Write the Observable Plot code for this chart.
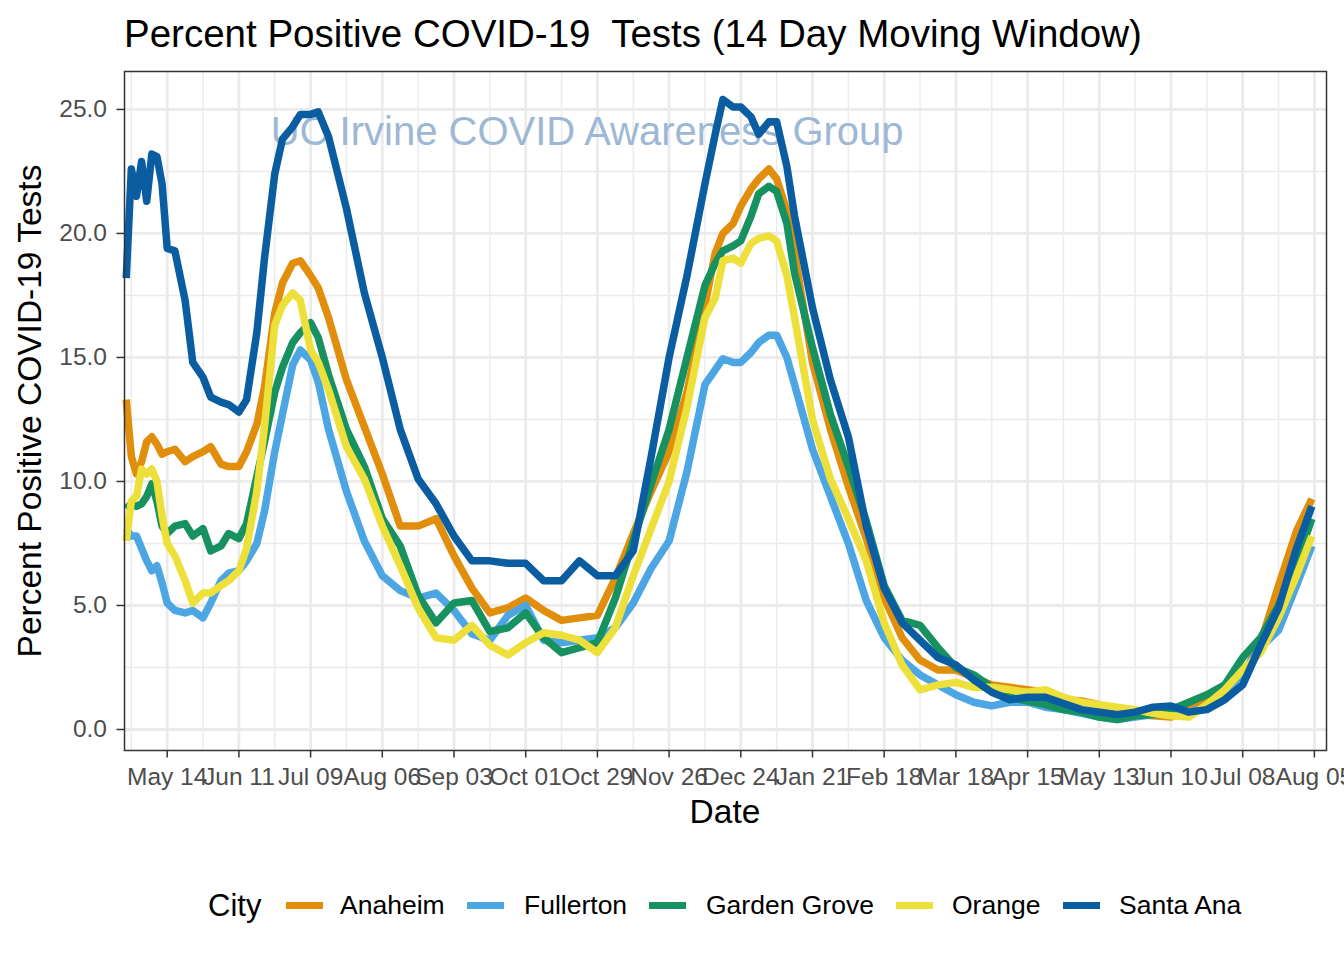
<!DOCTYPE html>
<html>
<head>
<meta charset="utf-8">
<script src="https://cdn.jsdelivr.net/npm/d3@7"></script>
<script src="https://cdn.jsdelivr.net/npm/@observablehq/plot@0.6"></script>
<style>
  body { margin: 0; background: #fff; font-family: "Liberation Sans", Arial, Helvetica, sans-serif; }
  #wrap { position: relative; width: 1344px; height: 960px; overflow: hidden; background: #fff; }
  #chart { position: absolute; left: 0; top: 0; }
  .abs { position: absolute; line-height: 1; white-space: pre; color: #000; }
  #title { left: 124px; top: 14.5px; font-size: 38.5px; }
  #xtitle { left: 725px; top: 794.6px; font-size: 33.5px; transform: translateX(-50%); }
  #ytitle { left: 30px; top: 411px; font-size: 33.5px; transform: translate(-50%, -50%) rotate(-90deg); }
  .sw { position: absolute; width: 37px; height: 7px; }
  .lg { position: absolute; line-height: 1; font-size: 26.5px; white-space: pre; color: #000; }
</style>
</head>
<body>
<div id="wrap">
  <div id="chart"></div>
  <div id="title" class="abs">Percent Positive COVID-19  Tests (14 Day Moving Window)</div>
  <div id="xtitle" class="abs">Date</div>
  <div id="ytitle" class="abs">Percent Positive COVID-19 Tests</div>
  <div id="legend"></div>
</div>
<script>
// ---------------- data ----------------
const cities = ["Anaheim", "Fullerton", "Garden Grove", "Orange", "Santa Ana"];
const cityColors = ["#E08E0B", "#4BA6E3", "#16915F", "#EEE03A", "#0B5DA2"];

const dates = [
  "2020-04-28","2020-04-30","2020-05-02","2020-05-04","2020-05-06","2020-05-08","2020-05-10","2020-05-12","2020-05-14",
  "2020-05-17","2020-05-21","2020-05-24","2020-05-28","2020-05-31","2020-06-04","2020-06-07","2020-06-11","2020-06-14",
  "2020-06-18","2020-06-21","2020-06-25","2020-06-28","2020-07-02","2020-07-05","2020-07-09","2020-07-12","2020-07-16",
  "2020-07-23","2020-07-30","2020-08-06","2020-08-13","2020-08-20","2020-08-27","2020-09-03","2020-09-10","2020-09-17",
  "2020-09-24","2020-10-01","2020-10-08","2020-10-15","2020-10-22","2020-10-29","2020-11-05","2020-11-12","2020-11-19",
  "2020-11-26","2020-12-03","2020-12-10",
  "2020-12-14","2020-12-17","2020-12-21","2020-12-24","2020-12-28","2020-12-31","2021-01-04","2021-01-07","2021-01-11","2021-01-14",
  "2021-01-21","2021-01-28","2021-02-04","2021-02-11","2021-02-18","2021-02-25","2021-03-04","2021-03-11","2021-03-18",
  "2021-03-25","2021-04-01","2021-04-08","2021-04-15","2021-04-22","2021-04-29","2021-05-06","2021-05-13","2021-05-20",
  "2021-05-27","2021-06-03","2021-06-10","2021-06-17","2021-06-24","2021-07-01","2021-07-08","2021-07-15","2021-07-22",
  "2021-07-29","2021-08-04"
];

const anaheim = [
  13.3, 11.0, 10.3, 10.8, 11.6, 11.8, 11.5, 11.1, 11.2,
  11.3, 10.8, 11.0, 11.2, 11.4, 10.7, 10.6, 10.6, 11.2,
  12.3, 13.8, 16.8, 18.0, 18.8, 18.9, 18.3, 17.8, 16.6,
  14.1, 12.2, 10.3, 8.2, 8.2, 8.5, 7.0, 5.7, 4.7,
  4.9, 5.3, 4.8, 4.4, 4.5, 4.6, 6.1, 7.9, 9.6,
  11.2, 13.6, 17.1,
  19.2, 20.0, 20.4, 21.1, 21.8, 22.2, 22.6, 22.2, 20.9, 19.2,
  14.8, 12.1, 9.8, 7.7, 5.3, 3.7, 2.8, 2.4, 2.4,
  2.1, 1.8, 1.7, 1.6, 1.5, 1.2, 1.15, 1.0, 0.7,
  0.6, 0.55, 0.5, 0.8, 1.2, 1.6, 2.2, 3.5, 5.8,
  8.0, 9.3
];

const fullerton = [
  8.1, 7.8, 7.8, 7.3, 6.8, 6.4, 6.6, 5.9, 5.1,
  4.8, 4.7, 4.8, 4.5, 5.1, 6.0, 6.3, 6.4, 6.8,
  7.5, 8.8, 11.2, 12.7, 14.7, 15.3, 14.9, 14.0, 12.1,
  9.6, 7.6, 6.2, 5.6, 5.3, 5.5, 4.8, 3.85, 3.6,
  4.6, 5.0, 3.6, 3.5, 3.6, 3.7, 4.1, 5.1, 6.5,
  7.6, 10.4, 13.9,
  14.5, 14.95, 14.8, 14.8, 15.2, 15.6, 15.9, 15.9, 15.0, 13.9,
  11.3, 9.4, 7.5, 5.2, 3.7, 2.8, 2.2, 1.8, 1.4,
  1.1, 0.95, 1.1, 1.1, 0.9, 0.8, 0.65, 0.5, 0.4,
  0.5, 0.6, 0.6, 0.7, 0.9, 1.4, 2.3, 3.3, 4.0,
  5.8, 7.4
];

const gardenGrove = [
  8.9, 9.1, 9.0, 9.1, 9.4, 9.9, 9.2, 8.2, 7.9,
  8.2, 8.3, 7.8, 8.1, 7.2, 7.4, 7.9, 7.7, 8.3,
  10.2, 11.6, 13.6, 14.6, 15.6, 16.0, 16.4, 15.8, 14.3,
  12.1, 10.6, 8.5, 7.4, 5.4, 4.3, 5.1, 5.2, 3.95,
  4.1, 4.7, 3.7, 3.1, 3.3, 3.5, 5.3, 7.6, 9.9,
  12.1, 15.0, 17.9,
  18.8, 19.3, 19.5, 19.7, 20.7, 21.6, 21.9, 21.7, 20.4, 18.4,
  15.4, 12.7, 10.6, 8.4, 5.8, 4.4, 4.2, 3.3, 2.5,
  2.2, 1.7, 1.3, 1.15, 1.0, 0.8, 0.7, 0.5, 0.4,
  0.55, 0.6, 0.8, 1.1, 1.4, 1.8, 2.9, 3.7, 5.0,
  6.7, 8.5
];

const orange = [
  7.6, 9.2, 9.4, 10.5, 10.3, 10.5, 10.0, 8.6, 7.5,
  7.0, 6.0, 5.1, 5.5, 5.5, 5.8, 6.0, 6.4, 7.3,
  9.6, 12.2, 16.3, 17.1, 17.6, 17.3, 15.3, 14.8, 13.7,
  11.4, 10.1, 8.2, 6.6, 4.9, 3.7, 3.6, 4.2, 3.4,
  3.0, 3.5, 3.9, 3.8, 3.6, 3.1, 4.1, 6.2, 8.1,
  10.0, 13.0, 16.6,
  17.4, 18.9, 19.0, 18.8, 19.6, 19.8, 19.9, 19.7, 18.3, 16.6,
  12.5, 10.1, 8.5, 6.8, 4.3, 2.6, 1.6, 1.8, 1.9,
  1.7, 1.7, 1.6, 1.5, 1.6, 1.3, 1.1, 1.0, 0.9,
  0.8, 0.65, 0.55, 0.5, 1.0, 1.6, 2.4, 3.1, 4.5,
  6.2, 7.8
];

const santaAna = [
  18.2, 22.6, 21.5, 22.9, 21.3, 23.2, 23.1, 22.0, 19.4,
  19.3, 17.3, 14.8, 14.2, 13.4, 13.2, 13.1, 12.8, 13.3,
  16.0, 19.0, 22.4, 23.8, 24.3, 24.8, 24.8, 24.9, 23.9,
  21.0, 17.6, 15.0, 12.1, 10.1, 9.1, 7.8, 6.8, 6.8,
  6.7, 6.7, 6.0, 6.0, 6.8, 6.2, 6.2, 7.2, 11.0,
  15.0, 18.3, 22.0,
  24.0, 25.4, 25.1, 25.1, 24.7, 24.0, 24.5, 24.5, 22.7, 20.7,
  17.0, 14.1, 11.8, 8.2, 5.7, 4.3, 3.6, 2.9, 2.6,
  2.0, 1.5, 1.2, 1.3, 1.3, 1.05, 0.8, 0.7, 0.6,
  0.7, 0.9, 0.95, 0.7, 0.8, 1.2, 1.8, 3.4, 4.9,
  7.3, 9.0
];

const seriesValues = [anaheim, fullerton, gardenGrove, orange, santaAna];

// axis ticks
const xTicks = [
  "2020-05-14","2020-06-11","2020-07-09","2020-08-06","2020-09-03","2020-10-01","2020-10-29","2020-11-26",
  "2020-12-24","2021-01-21","2021-02-18","2021-03-18","2021-04-15","2021-05-13","2021-06-10","2021-07-08","2021-08-05"
];
const xMinorTicks = [
  "2020-04-30","2020-05-28","2020-06-25","2020-07-23","2020-08-20","2020-09-17","2020-10-15","2020-11-12",
  "2020-12-10","2021-01-07","2021-02-04","2021-03-04","2021-04-01","2021-04-29","2021-05-27","2021-06-24","2021-07-22"
];
const yTicks = [0, 5, 10, 15, 20, 25];
const yMinorTicks = [2.5, 7.5, 12.5, 17.5, 22.5];

const watermark = [{date: "2020-10-25", value: 24.07, label: "UC Irvine COVID Awareness Group"}];

// ---------------- build ----------------
const parse = d3.utcParse("%Y-%m-%d");
const rows = [];
cities.forEach((c, ci) => {
  dates.forEach((d, i) => rows.push({date: parse(d), value: seriesValues[ci][i], city: c}));
});
const xT = xTicks.map(parse);
const xM = xMinorTicks.map(parse);
const wm = watermark.map(w => ({...w, date: parse(w.date)}));

const grid = "#EBEBEB";
const chart = Plot.plot({
  width: 1344,
  height: 860,
  marginTop: 71,
  marginBottom: 110,
  marginLeft: 124,
  marginRight: 18,
  style: {fontFamily: "'Liberation Sans', Arial, Helvetica, sans-serif", background: "transparent", overflow: "visible"},
  x: {type: "utc", domain: [new Date("2020-04-27T07:48:00Z"), new Date("2021-08-09T17:30:00Z")], axis: null},
  y: {domain: [-0.847, 26.53], axis: null},
  color: {domain: cities, range: cityColors},
  marks: [
    Plot.gridY({ticks: yMinorTicks, stroke: grid, strokeOpacity: 1, strokeWidth: 1.4}),
    Plot.gridX({ticks: xM, stroke: grid, strokeOpacity: 1, strokeWidth: 1.4}),
    Plot.gridY({ticks: yTicks, stroke: grid, strokeOpacity: 1, strokeWidth: 2.8}),
    Plot.gridX({ticks: xT, stroke: grid, strokeOpacity: 1, strokeWidth: 2.8}),
    Plot.text(wm, {x: "date", y: "value", text: "label", fontSize: 40, fill: "#9DB8D5"}),
    Plot.line(rows, {x: "date", y: "value", z: "city", stroke: "city", strokeWidth: 7.5, strokeLinejoin: "round", strokeLinecap: "butt"}),
    Plot.frame({stroke: "#333333", strokeWidth: 1.5}),
    Plot.axisX({ticks: xT, tickFormat: d3.utcFormat("%b %d"), tickSize: 7.5, tickPadding: 9.5, fontSize: 24.5,
                fill: "#4D4D4D", stroke: "#333333", strokeWidth: 1.5, label: null}),
    Plot.axisY({ticks: yTicks, tickFormat: d3.format(".1f"), tickSize: 7.5, tickPadding: 10, fontSize: 24.5,
                fill: "#4D4D4D", stroke: "#333333", strokeWidth: 1.5, label: null})
  ]
});
document.getElementById("chart").appendChild(chart);

// ---------------- legend ----------------
const legend = document.getElementById("legend");
const legendY = 905;
const cityTitle = document.createElement("div");
cityTitle.className = "lg";
cityTitle.style.fontSize = "31px";
cityTitle.style.left = "208px";
cityTitle.style.top = (legendY - 15.5) + "px";
cityTitle.textContent = "City";
legend.appendChild(cityTitle);
const swatchLeft = [286, 467, 649, 896, 1063];
const labelLeft = [340, 524, 706, 952, 1119];
cities.forEach((c, i) => {
  const sw = document.createElement("div");
  sw.className = "sw";
  sw.style.left = swatchLeft[i] + "px";
  sw.style.top = (legendY - 3.5) + "px";
  sw.style.background = cityColors[i];
  legend.appendChild(sw);
  const lb = document.createElement("div");
  lb.className = "lg";
  lb.style.left = labelLeft[i] + "px";
  lb.style.top = (legendY - 13.25) + "px";
  lb.textContent = c;
  legend.appendChild(lb);
});
</script>
</body>
</html>
